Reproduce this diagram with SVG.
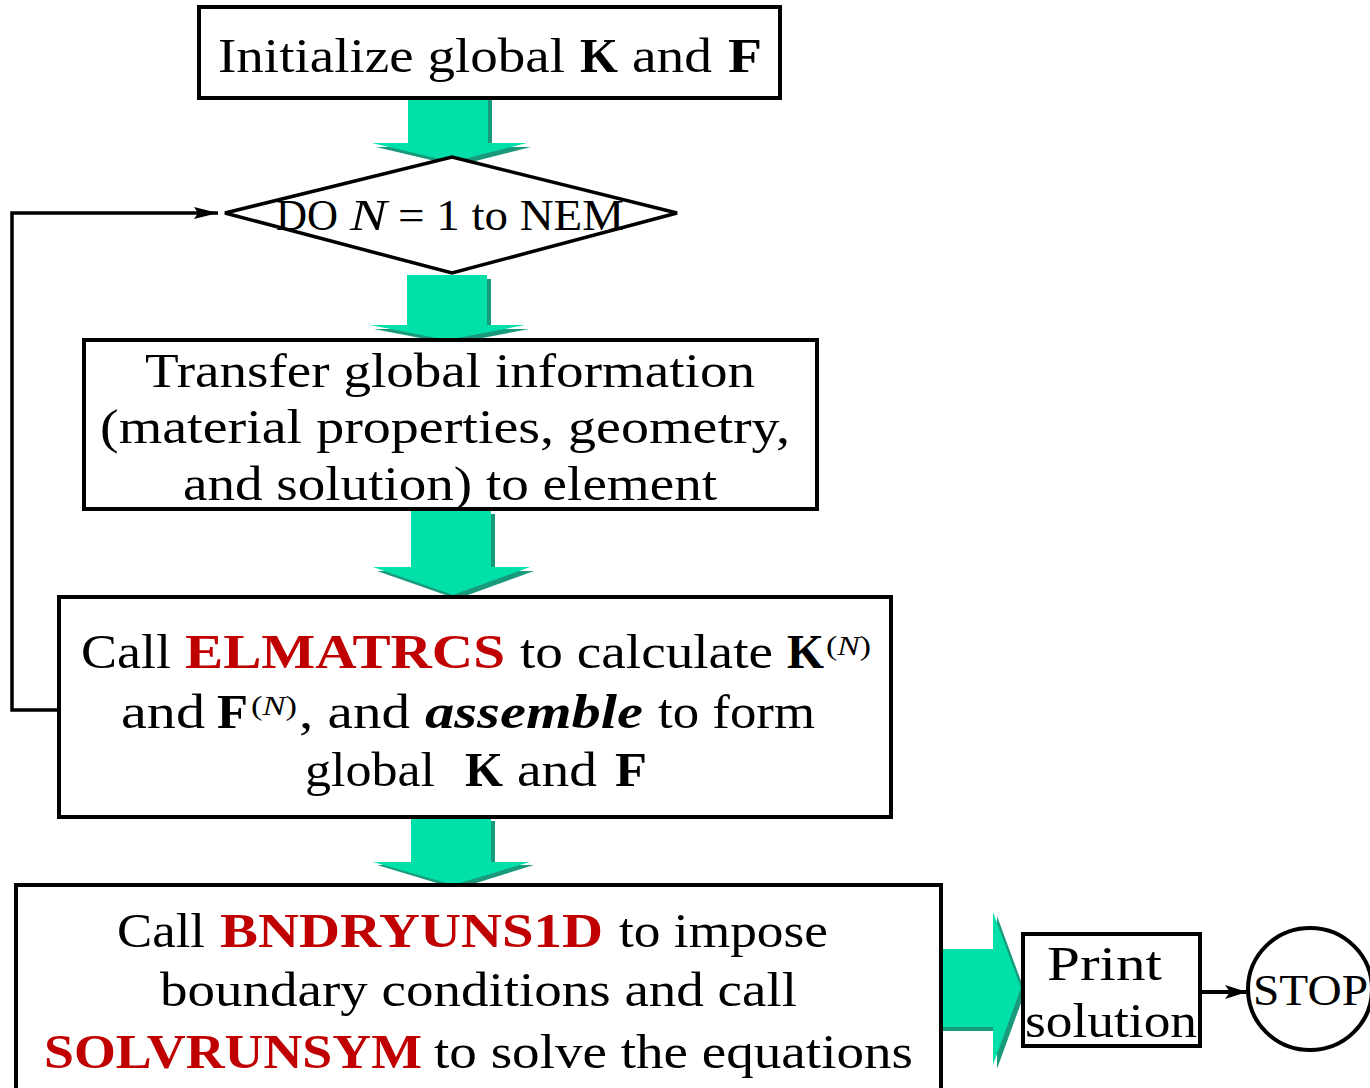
<svg xmlns="http://www.w3.org/2000/svg" width="1370" height="1088" viewBox="0 0 1370 1088">
<defs>
<style>
.box{fill:#fff;stroke:#000;stroke-width:4}
.t{font-family:"Liberation Serif","Times New Roman",serif;font-size:48px;fill:#000}
.b{font-weight:bold}
.i{font-style:italic}
.red{font-weight:bold;fill:#C00000}
.sup{font-size:28px}
.ln{fill:none;stroke:#000;stroke-width:3.5}
.ga{fill:#00E0A8}
.gs{fill:#1A9A7C}
</style>
<marker id="ah" viewBox="0 0 24 12" refX="24" refY="6" markerWidth="24" markerHeight="12" orient="auto" markerUnits="userSpaceOnUse"><path d="M0,0 L24,6 L0,12 L4,6 z" fill="#000"/></marker>
<marker id="ah2" viewBox="0 0 22 14" refX="22" refY="7" markerWidth="22" markerHeight="14" orient="auto" markerUnits="userSpaceOnUse"><path d="M0,0 L22,7 L0,14 L5,7 z" fill="#000"/></marker>
</defs>
<rect width="1370" height="1088" fill="#fff"/>

<g id="connectors">
<polyline class="ln" points="60,710 12,710 12,213 218,213" marker-end="url(#ah)"/>
<line class="ln" style="stroke-width:4" x1="1200" y1="992" x2="1247" y2="992" marker-end="url(#ah2)"/>
<g id="arrow1">
<polygon class="gs" points="412,99 492,99 492,147 531,147 456,166 376,147 412,147"/>
<polygon class="ga" points="408,95 488,95 488,143 527,143 452,162 372,143 408,143"/>
</g>
<g id="arrow2">
<polygon class="gs" points="411,279 491,279 491,329 529,329 451,344 374,329 411,329"/>
<polygon class="ga" points="407,275 487,275 487,325 525,325 447,340 370,325 407,325"/>
</g>
<g id="arrow3">
<polygon class="gs" points="415,514 495,514 495,571 534,571 457,599 377,571 415,571"/>
<polygon class="ga" points="411,510 491,510 491,567 530,567 453,595 373,567 411,567"/>
</g>
<g id="arrow4">
<polygon class="gs" points="415,821 495,821 495,865 534,865 457,889 377,865 415,865"/>
<polygon class="ga" points="411,817 491,817 491,862 530,862 453,885 373,862 411,862"/>
</g>
<g id="arrow5">
<polygon class="gs" points="941,953 997,953 997,916 1025,992 997,1069 997,1031 941,1031"/>
<polygon class="ga" points="937,949 993,949 993,912 1021,988 993,1065 993,1027 937,1027"/>
</g>
</g>

<g id="init">
<rect class="box" x="199" y="7" width="581" height="91"/>
<text class="t" x="218" y="72" textLength="347" lengthAdjust="spacingAndGlyphs">Initialize global</text>
<text class="t b" x="580" y="72" textLength="38" lengthAdjust="spacingAndGlyphs">K</text>
<text class="t" x="632" y="72" textLength="80" lengthAdjust="spacingAndGlyphs">and</text>
<text class="t b" x="728" y="72" textLength="34" lengthAdjust="spacingAndGlyphs">F</text>
</g>

<g id="loop">
<polygon fill="#fff" stroke="#000" stroke-width="3.5" points="225,213 452,157 677,213 452,273"/>
<text class="t" style="font-size:44px" x="276" y="230" textLength="62" lengthAdjust="spacingAndGlyphs">DO</text>
<text class="t i" style="font-size:44px" x="350" y="230" textLength="37" lengthAdjust="spacingAndGlyphs">N</text>
<text class="t" style="font-size:44px" x="398" y="230" textLength="226" lengthAdjust="spacingAndGlyphs">= 1 to NEM</text>
</g>

<g id="transfer">
<rect class="box" x="84" y="340" width="733" height="169"/>
<text class="t" x="145" y="387" textLength="610" lengthAdjust="spacingAndGlyphs">Transfer global information</text>
<text class="t" x="100" y="443" textLength="690" lengthAdjust="spacingAndGlyphs">(material properties, geometry,</text>
<text class="t" x="183" y="500" textLength="534" lengthAdjust="spacingAndGlyphs">and solution) to element</text>
</g>

<g id="elmatrcs">
<rect class="box" x="59" y="597" width="832" height="220"/>
<text class="t" x="81" y="668" textLength="90" lengthAdjust="spacingAndGlyphs">Call</text>
<text class="t red" x="185" y="668" textLength="320" lengthAdjust="spacingAndGlyphs">ELMATRCS</text>
<text class="t" x="520" y="668" textLength="253" lengthAdjust="spacingAndGlyphs">to calculate</text>
<text class="t b" x="787" y="668" textLength="37" lengthAdjust="spacingAndGlyphs">K</text>
<text class="t sup" x="826" y="655" textLength="45" lengthAdjust="spacingAndGlyphs">(<tspan class="i">N</tspan>)</text>
<text class="t" x="121" y="728" textLength="84" lengthAdjust="spacingAndGlyphs">and</text>
<text class="t b" x="217" y="728" textLength="31" lengthAdjust="spacingAndGlyphs">F</text>
<text class="t sup" x="251" y="715" textLength="46" lengthAdjust="spacingAndGlyphs">(<tspan class="i">N</tspan>)</text>
<text class="t" x="299" y="728" textLength="111" lengthAdjust="spacingAndGlyphs">, and</text>
<text class="t b i" x="425" y="728" textLength="218" lengthAdjust="spacingAndGlyphs">assemble</text>
<text class="t" x="658" y="728" textLength="157" lengthAdjust="spacingAndGlyphs">to form</text>
<text class="t" x="305" y="786" textLength="130" lengthAdjust="spacingAndGlyphs">global</text>
<text class="t b" x="465" y="786" textLength="38" lengthAdjust="spacingAndGlyphs">K</text>
<text class="t" x="517" y="786" textLength="80" lengthAdjust="spacingAndGlyphs">and</text>
<text class="t b" x="615" y="786" textLength="32" lengthAdjust="spacingAndGlyphs">F</text>
</g>

<g id="solve">
<rect class="box" x="16" y="885" width="925" height="215"/>
<text class="t" x="117" y="947" textLength="88" lengthAdjust="spacingAndGlyphs">Call</text>
<text class="t red" x="220" y="947" textLength="383" lengthAdjust="spacingAndGlyphs">BNDRYUNS1D</text>
<text class="t" x="619" y="947" textLength="209" lengthAdjust="spacingAndGlyphs">to impose</text>
<text class="t" x="160" y="1006" textLength="637" lengthAdjust="spacingAndGlyphs">boundary conditions and call</text>
<text class="t red" x="44" y="1068" textLength="378" lengthAdjust="spacingAndGlyphs">SOLVRUNSYM</text>
<text class="t" x="434" y="1068" textLength="479" lengthAdjust="spacingAndGlyphs">to solve the equations</text>
</g>

<g id="print">
<rect class="box" x="1023" y="934" width="177" height="112"/>
<text class="t" x="1047" y="980" textLength="115" lengthAdjust="spacingAndGlyphs">Print</text>
<text class="t" x="1025" y="1037" textLength="172" lengthAdjust="spacingAndGlyphs">solution</text>
</g>

<g id="stop">
<ellipse cx="1310" cy="989" rx="62" ry="61" fill="#fff" stroke="#000" stroke-width="4"/>
<text class="t" style="font-size:44px" x="1253" y="1005" textLength="115" lengthAdjust="spacingAndGlyphs">STOP</text>
</g>
</svg>
